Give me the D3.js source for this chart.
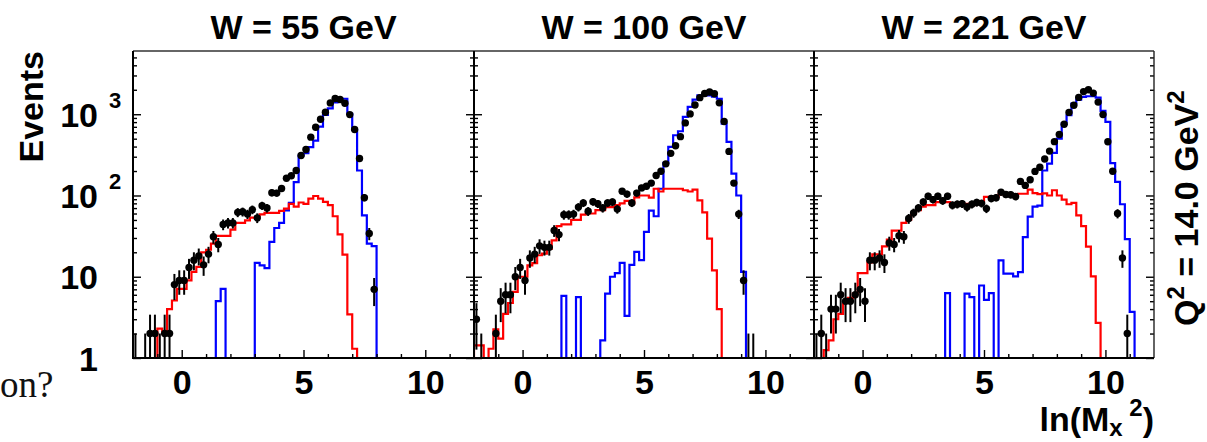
<!DOCTYPE html>
<html><head><meta charset="utf-8">
<script src="https://cdn.jsdelivr.net/npm/d3@7"></script>
<style>
body{margin:0;background:#fff}
svg{display:block}
.b{font-family:"Liberation Sans",Arial,Helvetica,sans-serif;font-weight:bold;fill:#000}
</style>
</head><body>
<svg id="c" width="1207" height="442"></svg>
<script>
// ---------------- data (bins of width 0.2 starting at ln(Mx^2) = -2) ----------------
const xMin = -2, xMax = 12, binWidth = 0.2;
const titles = ["W = 55 GeV", "W = 100 GeV", "W = 221 GeV"];
const xTickLabels = [0, 5, 10];
const yDecades = [1, 10, 100, 1000];

const data55 = [1,0,1,2,2,1,2,2,8,9, 9,13,16,18,14,19,31,25,44,46, 46,62,63,59,67,53,75,70,108,107,
  122,163,175,203,310,368,522,692,868,1059, 1378,1559,1515,1366,990,648,285,94,34,7];
const red55 = [0,0,0,0,0,2.3,2,4,5.1,7.1, 7.1,9,11.5,13.2,20,21.5,25.5,31.8,31.8,31.8,
  38,46,46,49.5,53.5,53.5,58.7,61,61,61, 64.5,69,79,73,82,79,91.5,98.5,91.5,83.5,
  76,55.5,33.3,18.7,3.45,1.3];
const blue55 = [0,0,0,0,0,0,0,0,0,0, 0,0,0,0,0,0,0,5,7.1,0, 0,0,0,0,0,14.8,13.8,12.8,26.8,39.8,
  45.9,65.7,81,146,310,331,393,474,705,980, 1180,1400,1550,1550,1009,642,203,56.8,25.5,23.8];

const data100 = [3,1,0,0,2,5,6,6,10,13, 9,17,19,24,23,23,37,33,58,58, 59,72,81,64,84,79,70,81,83,68,
  113,104,81,107,124,130,142,176,199,245, 330,410,530,782,1010,1300,1600,1800,1880,1790,
  1380,815,349,142,59,9,1,1];
const red100 = [1.43,1.43,0,1.3,2.25,1.73,3.5,4.75,6.5,10, 10,13.8,14.7,18.4,19.2,22,28,42,44,44,
  50,50,58,60,60,66,66,72,72,76, 80,86,80,95,100,100,94,121,112,121,
  121,121,121,116,112,118,87,62,29.5,12, 4];
const blue100 = [0,0,0,0,0,0,0,0,0,0, 0,0,0,0,0,0,0,0,5.8,0, 0,5.6,0,0,0,0,1.65,6.2,10,11.1,
  14.8,3.3,14,20.2,16,35.6,65,55.5,121,252, 396,551,617,927,1230,1514,1711,1780,1711,1640,
  1550,767,456,186,100,11.5];

const data221 = [1,2,1,4,4,6,5,5,6,7, 5,16,16,17,15,26,25,32,31,52, 61,70,83,98,89,98,86,98,76,78,
  79,72,78,82,80,69,92,94,110,103, 102,97,149,133,156,198,223,281,352,460,
  562,752,1053,1290,1610,1900,2000,1820,1410,990, 458,199,60,17,2];
const red221 = [0,0,1.25,1.65,3.0,3.5,5,5.5,6.2,11.1, 11.1,15,18.9,18.9,23.7,28.6,37,37,46,50,
  60,66,73,76,76,83,83,83,76,79, 79,79,76,78,83,96,96,96,103,103,
  103,103,105,105,118,107,104,106,100,116, 100,89,78,81,57,42,23.5,10.1,2.7];
const blue221 = [0,0,0,0,0,0,0,0,0,0, 0,0,0,0,0,0,0,0,0,0, 0,0,0,0,0,0,0,6.3,0,0,
  0,6.2,5.6,0,7.8,5.2,6.3,0,15.9,10.9, 10.9,10.1,11.4,30.7,55,73,75,203,246,334,
  501,767,971,1352,1514,1633,1664,1664,1600,1100, 805,250,147,78,29,3.7];

const panels = [
  {title: titles[0], data: data55,  red: red55,  blue: blue55},
  {title: titles[1], data: data100, red: red100, blue: blue100},
  {title: titles[2], data: data221, red: red221, blue: blue221}
];

// ---------------- layout ----------------
const svg = d3.select("#c");
const frameTop = 51, frameBottom = 358;
const panelX = [[133, 474], [474, 814], [814, 1154]];
const yMin = 1, yMax = 6000;
const nBins = Math.round((xMax - xMin) / binWidth);

const y = d3.scaleLog().domain([yMin, yMax]).range([frameBottom, frameTop]);
const minorVals = [];
for (const d of yDecades) for (let m = 2; m <= 9; m++) if (d * m < yMax) minorVals.push(d * m);

const defs = svg.append("defs");

panels.forEach((p, i) => {
  const [L, R] = panelX[i];
  const x = d3.scaleLinear().domain([xMin, xMax]).range([L, R]);
  const g = svg.append("g");

  defs.append("clipPath").attr("id", "clip" + i).append("rect")
    .attr("x", L).attr("y", frameTop).attr("width", R - L).attr("height", frameBottom - frameTop);
  const plot = g.append("g").attr("clip-path", `url(#clip${i})`);

  const below = frameBottom + 30;
  function stepPath(vals) {
    let d = `M${x(xMin)},${below}`;
    for (let k = 0; k < nBins; k++) {
      const v = vals[k] || 0;
      const yy = v > 0 ? y(v) : below;
      d += `L${x(xMin + k * binWidth)},${yy}L${x(xMin + (k + 1) * binWidth)},${yy}`;
    }
    return d + `L${x(xMax)},${below}`;
  }
  plot.append("path").attr("d", stepPath(p.blue)).attr("fill", "none")
    .attr("stroke", "#0000ff").attr("stroke-width", 2.2).attr("stroke-linejoin", "miter");
  plot.append("path").attr("d", stepPath(p.red)).attr("fill", "none")
    .attr("stroke", "#ff0000").attr("stroke-width", 2.2).attr("stroke-linejoin", "miter");

  const pts = p.data.map((v, k) => ({v, c: xMin + (k + 0.5) * binWidth})).filter(d => d.v > 0);
  plot.selectAll("line.err").data(pts).join("line").attr("class", "err")
    .attr("x1", d => x(d.c)).attr("x2", d => x(d.c))
    .attr("y1", d => { const lo = d.v - Math.sqrt(d.v); return lo > yMin ? y(lo) : frameBottom + 2; })
    .attr("y2", d => y(d.v + Math.sqrt(d.v)))
    .attr("stroke", "#000").attr("stroke-width", 2);
  plot.selectAll("circle").data(pts.filter(d => d.v > yMin)).join("circle")
    .attr("cx", d => x(d.c)).attr("cy", d => y(d.v)).attr("r", 3.7).attr("fill", "#000");

  // ticks via d3 axes (pointing inward)
  const axL = g.append("g").attr("transform", `translate(${L},0)`)
    .call(d3.axisLeft(y).tickValues(yDecades).tickSize(-8).tickFormat(""));
  const axLm = g.append("g").attr("transform", `translate(${L},0)`)
    .call(d3.axisLeft(y).tickValues(minorVals).tickSize(-4).tickFormat(""));
  const axR = g.append("g").attr("transform", `translate(${R},0)`)
    .call(d3.axisRight(y).tickValues(yDecades).tickSize(-8).tickFormat(""));
  const axRm = g.append("g").attr("transform", `translate(${R},0)`)
    .call(d3.axisRight(y).tickValues(minorVals).tickSize(-4).tickFormat(""));
  const axB = g.append("g").attr("transform", `translate(0,${frameBottom})`)
    .call(d3.axisBottom(x).tickValues(xTickLabels).tickSize(-8).tickPadding(12).tickFormat(d3.format("d")));
  const minorX = d3.range(xMin + 1, xMax).filter(v => !xTickLabels.includes(v));
  const axBm = g.append("g").attr("transform", `translate(0,${frameBottom})`)
    .call(d3.axisBottom(x).tickValues(minorX).tickSize(-4).tickFormat(""));
  [axL, axLm, axR, axRm, axB, axBm].forEach(a => {
    a.select(".domain").remove();
    a.selectAll(".tick line").attr("stroke", "#000").attr("stroke-width", 1.4);
  });
  axB.selectAll(".tick text").attr("class", "b").attr("font-size", 34)
    .style("font-family", '"Liberation Sans",Arial,sans-serif').style("font-weight", "bold").attr("fill", "#000");

  // frame
  g.append("line").attr("x1", L).attr("x2", R).attr("y1", frameTop).attr("y2", frameTop)
    .attr("stroke", "#333").attr("stroke-width", 1.3);
  g.append("line").attr("x1", R).attr("x2", R).attr("y1", frameTop).attr("y2", frameBottom)
    .attr("stroke", "#222").attr("stroke-width", 1.4);
  g.append("line").attr("x1", L).attr("x2", L).attr("y1", frameTop).attr("y2", frameBottom + 1)
    .attr("stroke", "#000").attr("stroke-width", 2);
  g.append("line").attr("x1", L - 1).attr("x2", R).attr("y1", frameBottom).attr("y2", frameBottom)
    .attr("stroke", "#000").attr("stroke-width", 2);

  // title
  g.append("text").attr("class", "b").attr("x", (L + R) / 2).attr("y", 39)
    .attr("text-anchor", "middle").attr("font-size", 34).text(p.title);
});

// y tick labels (first panel only)
const yl = svg.append("g");
yDecades.forEach(d => {
  const yy = y(d);
  const exp = Math.round(Math.log10(d));
  const base = exp <= 1 ? String(d) : "10";
  yl.append("text").attr("class", "b").attr("x", 98).attr("y", yy + 12.5)
    .attr("text-anchor", "end").attr("font-size", 34).text(base);
  if (exp > 1) {
    yl.append("text").attr("class", "b").attr("x", 109).attr("y", yy - 6)
      .attr("font-size", 22).text(String(exp));
  }
});

// axis titles
svg.append("text").attr("class", "b").attr("font-size", 34)
  .attr("transform", "translate(43,51) rotate(-90)").attr("text-anchor", "end").text("Events");

const q = svg.append("text").attr("class", "b").attr("font-size", 34)
  .attr("transform", "translate(1198,326) rotate(-90)");
q.append("tspan").text("Q");
q.append("tspan").attr("font-size", 24).attr("dy", -14).text("2");
q.append("tspan").attr("dy", 14).text(" = 14.0 GeV");
q.append("tspan").attr("font-size", 24).attr("dy", -14).text("2");

const lx = svg.append("text").attr("class", "b").attr("font-size", 34)
  .attr("x", 1154).attr("y", 431).attr("text-anchor", "end");
lx.append("tspan").text("ln(M");
lx.append("tspan").attr("font-size", 24).attr("dy", 5).text("x");
lx.append("tspan").attr("font-size", 24).attr("dy", -20).text(" 2");
lx.append("tspan").attr("dy", 15).text(")");

// fragment of surrounding page text
svg.append("text").attr("x", 0).attr("y", 397).attr("font-size", 37)
  .style("font-family", '"Liberation Serif","Times New Roman",serif').attr("fill", "#111").text("on?");
</script>
</body></html>
